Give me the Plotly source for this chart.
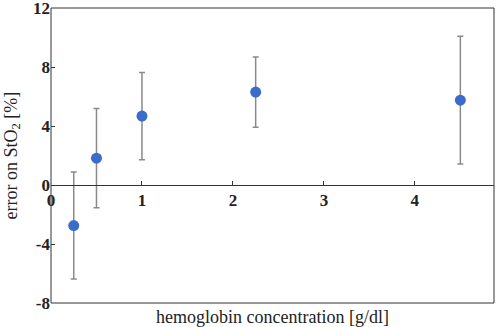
import plotly.graph_objects as go

hemoglobin = [0.25, 0.5, 1.0, 2.25, 4.5]
error_sto2 = [-2.75, 1.82, 4.67, 6.3, 5.75]
error_sd = [3.63, 3.37, 2.95, 2.38, 4.33]

x_ticks = [0, 1, 2, 3, 4]
y_ticks = [-8, -4, 0, 4, 8, 12]
y_tick_labels = ["-8", "-4", "0", "4", "8", "12"]

serif = "Liberation Serif"

fig = go.Figure()
fig.add_trace(go.Scatter(
    x=hemoglobin, y=error_sto2, mode="markers",
    marker=dict(color="#3a6ccb", size=11),
    error_y=dict(type="data", array=error_sd, visible=True,
                 color="#8a8a8a", thickness=1.5, width=3),
    showlegend=False, hoverinfo="skip",
))

fig.update_layout(
    width=498, height=327,
    margin=dict(l=51, r=4, t=8, b=24),
    paper_bgcolor="white", plot_bgcolor="white",
    xaxis=dict(range=[0, 4.87], tickvals=x_ticks,
               showgrid=False, zeroline=False, showline=True, linecolor="#333", linewidth=1,
               ticks="inside", ticklen=4, tickcolor="#333",
               anchor="free", position=0.4, automargin=False, ticklabeloverflow="allow",
               tickfont=dict(family=serif, size=17, color="#222", weight="bold")),
    yaxis=dict(range=[-8, 12], tickvals=y_ticks, ticktext=y_tick_labels,
               showgrid=False, zeroline=False, showline=False,
               ticks="inside", ticklen=4, tickcolor="#333", automargin=False,
               ticklabeloverflow="allow",
               tickfont=dict(family=serif, size=17, color="#222", weight="bold")),
)

fig.add_shape(type="rect", xref="paper", yref="paper", x0=0, y0=0, x1=1, y1=1,
              line=dict(color="#333", width=1), fillcolor="rgba(0,0,0,0)")

fig.add_annotation(text="hemoglobin concentration [g/dl]", xref="paper", yref="paper",
                   x=0.5, y=0, yanchor="middle", yshift=-14, showarrow=False,
                   font=dict(family=serif, size=18, color="#222"))
fig.add_annotation(text="error on StO<sub>2</sub> [%]", xref="paper", yref="paper",
                   x=0, y=0.5, xanchor="center", yanchor="middle", xshift=-39, textangle=-90,
                   showarrow=False, font=dict(family=serif, size=18, color="#222"))

fig.write_html("out.html", config={"displayModeBar": False},
               post_script="document.body.style.margin='0';document.body.style.overflow='hidden';")
